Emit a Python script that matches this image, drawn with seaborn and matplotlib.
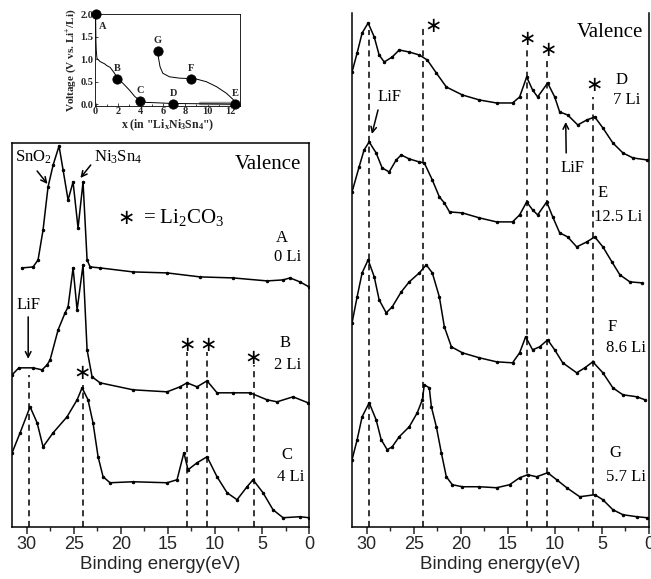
import matplotlib
matplotlib.use("Agg")
import matplotlib.pyplot as plt
import numpy as np
import pandas as pd
import seaborn as sns
from matplotlib.ticker import MultipleLocator

sns.set_theme(style="white")
plt.rcParams["font.family"] = ["Liberation Sans", "DejaVu Sans"]
plt.rcParams["mathtext.fontset"] = "custom"
plt.rcParams["mathtext.rm"] = "Liberation Serif"
plt.rcParams["mathtext.it"] = "Liberation Serif:italic"
plt.rcParams["mathtext.bf"] = "Liberation Serif:bold"

SERIF = ["Liberation Serif", "DejaVu Serif"]
STAR = "\u2217"

# ---------------- valence-band spectra (binding energy eV, intensity a.u.) ----------------
be_A = [30.5, 29.33, 28.8, 28.27, 27.74, 27.2, 26.57, 26.14, 25.61, 25.08, 24.55, 24.02,
        23.59, 23.27, 22.21, 18.7, 15.09, 11.58, 8.08, 4.46, 2.76, 2.02, 0.96, 0.0]
int_A = [259, 260, 267, 297, 340, 362, 381, 357, 327, 345, 299, 345,
         267, 260, 259, 255, 254, 250, 249, 246, 247, 249, 245, 240]

be_B = [31.56, 30.84, 29.33, 28.37, 27.84, 27.52, 26.67, 25.93, 25.61, 25.08, 24.65, 24.02,
        23.59, 23.06, 22.21, 18.7, 15.09, 13.71, 12.97, 11.9, 10.84, 9.78, 8.08, 6.27,
        4.46, 3.4, 1.7, 0.1]
int_B = [152, 159, 159, 157, 162, 167, 197, 214, 220, 259, 217, 262,
         177, 150, 144, 137, 135, 140, 144, 140, 146, 134, 134, 134,
         127, 125, 130, 124]

be_C = [31.56, 30.71, 29.65, 28.9, 28.27, 27.2, 25.72, 24.65, 24.12, 23.49, 22.96, 22.42,
        21.89, 21.15, 18.7, 15.09, 14.03, 13.3, 12.86, 11.9, 10.84, 9.78, 8.71, 7.65,
        6.59, 5.95, 4.89, 3.83, 2.76, 0.96, 0.0]
int_C = [74, 94, 120, 104, 80, 94, 110, 127, 139, 127, 104, 70,
         50, 44, 45, 44, 47, 74, 57, 64, 70, 50, 34, 27,
         40, 47, 34, 17, 9, 10, 9]

be_D = [31.56, 31.02, 30.49, 29.85, 29.2, 28.68, 28.14, 27.29, 26.55, 25.48, 24.41, 23.56,
        22.6, 21.54, 19.83, 18.02, 16.2, 14.5, 13.75, 13.0, 12.37, 11.83, 10.77, 10.02,
        9.49, 8.64, 7.57, 6.61, 5.76, 4.9, 3.84, 2.77, 1.7, 0.2]
int_D = [455, 474, 494, 504, 490, 472, 465, 470, 477, 475, 472, 467,
         454, 440, 432, 427, 424, 424, 430, 450, 437, 430, 444, 430,
         415, 412, 402, 407, 410, 399, 384, 374, 369, 367]

be_E = [31.56, 30.81, 30.28, 29.74, 29.0, 28.36, 27.61, 26.87, 26.33, 25.48, 24.41, 23.88,
        23.03, 22.28, 21.75, 21.2, 19.83, 18.02, 16.2, 14.5, 13.75, 13.0, 12.37, 11.83,
        10.87, 10.23, 9.49, 8.64, 7.68, 6.61, 5.76, 4.9, 3.94, 3.09, 2.03, 0.75]
int_E = [335, 360, 377, 385, 374, 359, 355, 367, 372, 368, 365, 364,
         347, 330, 324, 315, 314, 309, 305, 305, 312, 325, 317, 312,
         325, 310, 294, 290, 280, 285, 290, 280, 265, 252, 245, 244]

be_F = [31.56, 31.02, 30.49, 29.85, 29.2, 28.68, 27.93, 27.29, 26.33, 25.48, 24.41, 23.67,
        23.03, 22.28, 21.75, 21.0, 19.83, 18.02, 16.2, 14.5, 13.75, 13.11, 12.37, 11.62,
        10.77, 10.02, 9.17, 7.68, 6.82, 5.97, 4.9, 3.84, 2.77, 1.28, 0.43]
int_F = [204, 230, 254, 267, 250, 227, 214, 220, 235, 245, 254, 262,
         254, 230, 200, 180, 174, 169, 165, 164, 174, 190, 177, 180,
         187, 177, 164, 154, 159, 165, 154, 139, 132, 130, 127]

be_G = [31.56, 31.02, 30.49, 29.74, 29.0, 28.46, 27.82, 27.29, 26.55, 25.48, 24.63, 24.09,
        23.88, 23.35, 23.13, 22.6, 22.07, 21.54, 20.9, 19.83, 18.02, 16.2, 14.82, 13.75,
        12.9, 11.94, 10.77, 9.81, 8.74, 7.36, 5.76, 4.9, 3.84, 2.77, 1.28, 0.21]
int_G = [67, 87, 110, 124, 107, 87, 77, 80, 90, 100, 114, 127,
         142, 139, 120, 100, 74, 50, 42, 40, 40, 39, 42, 49,
         52, 50, 54, 47, 39, 30, 32, 27, 17, 12, 10, 9]

# reference energies (dashed markers) and their drawn heights
ref_be = [29.8, 24.0, 12.95, 10.85, 5.9]
ref_top_left = [152, 142, 175, 175, 162]
ref_top_right = [497, 502, 477, 469, 430]

# ---------------- voltage profile ----------------
dis_x = [0.0, 0.03, 0.06, 0.12, 0.4, 0.8, 1.0, 1.3, 1.6, 2.0, 2.5, 3.0, 3.5, 3.96,
         4.5, 5.5, 6.9, 9.0, 11.0, 12.44]
dis_v = [2.0, 1.4, 1.2, 1.02, 0.95, 0.9, 0.86, 0.82, 0.72, 0.57, 0.45, 0.32, 0.17, 0.08,
         0.04, 0.03, 0.015, 0.01, 0.005, 0.0]
chg_x = [12.44, 12.3, 11.7, 10.8, 9.9, 9.0, 8.48, 7.5, 6.6, 6.0, 5.75, 5.6, 5.54]
chg_v = [0.0, 0.1, 0.24, 0.39, 0.5, 0.56, 0.57, 0.58, 0.61, 0.69, 0.84, 1.06, 1.19]
pt_names = ["A", "B", "C", "D", "E", "F", "G"]
pt_x = [0.0, 1.93, 3.96, 6.93, 12.44, 8.48, 5.54]
pt_v = [2.0, 0.57, 0.08, 0.01, 0.01, 0.57, 1.19]


def spectra_frame(pairs):
    rows = []
    for name, be, it in pairs:
        for e, v in zip(be, it):
            rows.append({"spectrum": name, "energy": e, "intensity": v})
    return pd.DataFrame(rows)


fig = plt.figure(figsize=(6.51, 5.79), dpi=100)
axL = fig.add_axes([0.018, 0.0903, 0.4567, 0.6627])
axR = fig.add_axes([0.5402, 0.0903, 0.4567, 0.8872])
axI = fig.add_axes([0.146, 0.817, 0.2227, 0.158])

left_df = spectra_frame([("A", be_A, int_A), ("B", be_B, int_B), ("C", be_C, int_C)])
right_df = spectra_frame([("D", be_D, int_D), ("E", be_E, int_E),
                          ("F", be_F, int_F), ("G", be_G, int_G)])

for ax, df, tops, ytop in [(axL, left_df, ref_top_left, 384),
                           (axR, right_df, ref_top_right, 514)]:
    sns.lineplot(data=df, x="energy", y="intensity", units="spectrum", estimator=None,
                 color="black", lw=1.1, marker=".", markersize=3.5, mec="black",
                 ax=ax, legend=False)
    ax.vlines(ref_be, 0, tops, colors="black", linestyles=(0, (4, 3)), lw=1.1)
    ax.set_xlim(31.6, 0)
    ax.set_ylim(0, ytop)
    ax.set_yticks([])
    ax.set_ylabel("")
    ax.set_xlabel("Binding energy(eV)", fontsize=13.5, labelpad=2)
    ax.xaxis.set_major_locator(MultipleLocator(5))
    ax.xaxis.set_minor_locator(MultipleLocator(2.5))
    ax.tick_params(axis="x", which="major", direction="out", length=5, width=1.1,
                   labelsize=13, pad=2, bottom=True)
    ax.tick_params(axis="x", which="minor", direction="out", length=3, width=1.0, bottom=True)
    for s in ax.spines.values():
        s.set_color("black")
        s.set_linewidth(1.1)

axR.spines["top"].set_visible(False)


def txt(ax, x, y, s, size=12, **kw):
    ax.text(x, y, s, fontsize=size, family=SERIF, ha="center", va="center", color="black", **kw)


def star(ax, x, y, size=15):
    ax.text(x, y, STAR, fontsize=size, family=["DejaVu Sans"],
            ha="center", va="center", color="black")


def arrow(ax, tail, head):
    ax.annotate("", xy=head, xytext=tail,
                arrowprops=dict(arrowstyle="->", color="black", lw=1.1,
                                shrinkA=0, shrinkB=0, mutation_scale=10))


# ---- annotations, left panel ----
txt(axL, 29.3, 370, r"SnO$_\mathrm{2}$")
arrow(axL, (28.9, 356), (27.8, 343))
txt(axL, 20.3, 370, r"Ni$_\mathrm{3}$Sn$_\mathrm{4}$")
arrow(axL, (23.2, 362), (24.3, 349))
txt(axL, 4.4, 362, "Valence", size=15)
star(axL, 19.4, 309)
txt(axL, 13.3, 309, r"= Li$_\mathrm{2}$CO$_\mathrm{3}$", size=15)
txt(axL, 2.9, 289, "A")
txt(axL, 2.3, 270, "0 Li")
txt(axL, 2.55, 184, "B")
txt(axL, 2.25, 162, "2 Li")
txt(axL, 2.35, 72, "C")
txt(axL, 2.0, 50, "4 Li")
txt(axL, 29.85, 222, "LiF")
arrow(axL, (29.85, 210), (29.85, 168))
for x, y in [(12.97, 182), (10.73, 182), (5.95, 169), (24.12, 154)]:
    star(axL, x, y)

# ---- annotations, right panel ----
txt(axR, 4.2, 495, "Valence", size=15)
for x, y in [(22.9, 501), (13.0, 488), (10.77, 477), (5.86, 442)]:
    star(axR, x, y)
txt(axR, 2.9, 447, "D")
txt(axR, 2.35, 427, "7 Li")
txt(axR, 27.6, 430, "LiF")
arrow(axR, (28.8, 417), (29.45, 393))
txt(axR, 8.1, 359, "LiF")
arrow(axR, (8.8, 374), (8.85, 405))
txt(axR, 4.9, 334, "E")
txt(axR, 3.3, 310, "12.5 Li")
txt(axR, 3.9, 200, "F")
txt(axR, 2.5, 179, "8.6 Li")
txt(axR, 3.6, 74, "G")
txt(axR, 2.5, 50, "5.7 Li")

# ---- inset: voltage profile ----
sns.lineplot(x=[9.3, 12.3], y=[0.015, 0.015], color="0.6", lw=2.5, ax=axI)
sns.lineplot(x=dis_x, y=dis_v, sort=False, color="black", lw=0.7, ax=axI)
sns.lineplot(x=chg_x, y=chg_v, sort=False, color="black", lw=0.7, ax=axI)
sns.scatterplot(x=pt_x, y=pt_v, s=45, color="black", edgecolor="black", zorder=5,
                clip_on=False, ax=axI)
label_off = {"A": (5, -9)}
for n, x, v in zip(pt_names, pt_x, pt_v):
    dx, dy = label_off.get(n, (0, 7.5))
    axI.annotate(n, (x, v), xytext=(dx, dy), textcoords="offset points",
                 ha="center", va="center", fontsize=7.5, fontweight="bold", family=SERIF)
axI.set_xlim(-0.05, 12.9)
axI.set_ylim(-0.04, 2.0)
axI.set_xticks(range(0, 13, 2))
axI.set_yticks([0.0, 0.5, 1.0, 1.5, 2.0])
axI.xaxis.set_minor_locator(MultipleLocator(1))
axI.set_xticklabels([str(v) for v in range(0, 13, 2)], family=SERIF, fontweight="bold", fontsize=7.5)
axI.set_yticklabels(["0.0", "0.5", "1.0", "1.5", "2.0"], family=SERIF, fontweight="bold", fontsize=7.5)
axI.tick_params(which="both", direction="in", length=2.5, width=0.6, pad=1,
                bottom=True, left=True, top=False, right=False)
axI.tick_params(which="minor", length=1.5)
axI.set_xlabel(r'x (in "Li$_\mathbf{x}$Ni$_\mathbf{3}$Sn$_\mathbf{4}$")', family=SERIF,
               fontweight="bold", fontsize=8.5, labelpad=1)
axI.set_ylabel(r"Voltage (V vs. Li$^\mathbf{+}$/Li)", family=SERIF, fontweight="bold",
               fontsize=8, labelpad=1)
for s in axI.spines.values():
    s.set_color("black")
    s.set_linewidth(0.6)

fig.savefig("out.png", dpi=100, facecolor="white")
